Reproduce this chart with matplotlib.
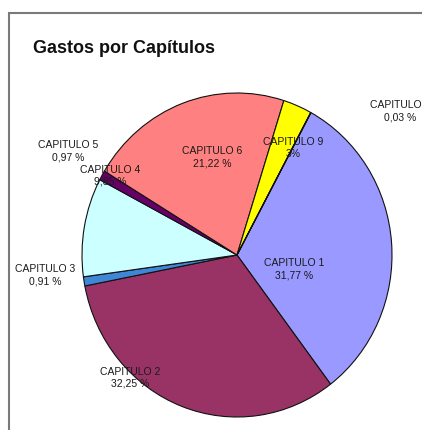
import matplotlib
matplotlib.use("Agg")
import matplotlib.pyplot as plt
from matplotlib.patches import Rectangle

plt.rcParams['font.family'] = ['Liberation Sans', 'DejaVu Sans']

# datos del grafico (orden de las porciones, en sentido horario)
capitulos = ["CAPITULO 1", "CAPITULO 2", "CAPITULO 3", "CAPITULO 4",
             "CAPITULO 5", "CAPITULO 6", "CAPITULO 9", "CAPITULO 7"]
porcentajes = [31.77, 32.25, 0.91, 9.85, 0.97, 21.22, 3.0, 0.03]
etiquetas_pct = ["31,77 %", "32,25 %", "0,91 %", "9,85 %",
                 "0,97 %", "21,22 %", "3%", "0,03 %"]
colores = ["#9999FF", "#993366", "#3F86D6", "#CCFFFF",
           "#660066", "#FF8080", "#FFFF00", "#CCCCFF"]

# posicion de las etiquetas en pixeles (x centro, y linea superior)
pos_etiquetas = [(294, 258), (130, 367), (45, 264), (110, 165),
                 (68, 140), (212, 146), (293, 137), (400, 100)]

W, H = 422, 430
fig = plt.figure(figsize=(W / 100, H / 100), dpi=100)

# marco del grafico
fig.patches.append(Rectangle((9 / W, -0.1), 1.2, (H - 13) / H + 0.1,
                             transform=fig.transFigure, fill=False,
                             edgecolor="#7a7a7a", linewidth=1.5))

fig.text(33 / W, 1 - 53 / H, "Gastos por Capítulos", fontsize=13,
         fontweight="bold", color="#111111", va="baseline", ha="left")

ax = fig.add_axes([82 / W, (H - 417) / H, 310 / W, 324 / H])
ax.pie(porcentajes, colors=colores, startangle=61.5, counterclock=False,
       wedgeprops=dict(edgecolor="#111111", linewidth=0.8))
ax.set_aspect("auto")
ax.set_xlim(-1, 1)
ax.set_ylim(-1, 1)

for nombre, pct, (px, py) in zip(capitulos, etiquetas_pct, pos_etiquetas):
    fig.text(px / W, 1 - py / H, nombre + "\n" + pct, fontsize=7.5,
             color="#1a1a1a", ha="center", va="top", linespacing=1.25)

fig.savefig("out.png", dpi=100)
